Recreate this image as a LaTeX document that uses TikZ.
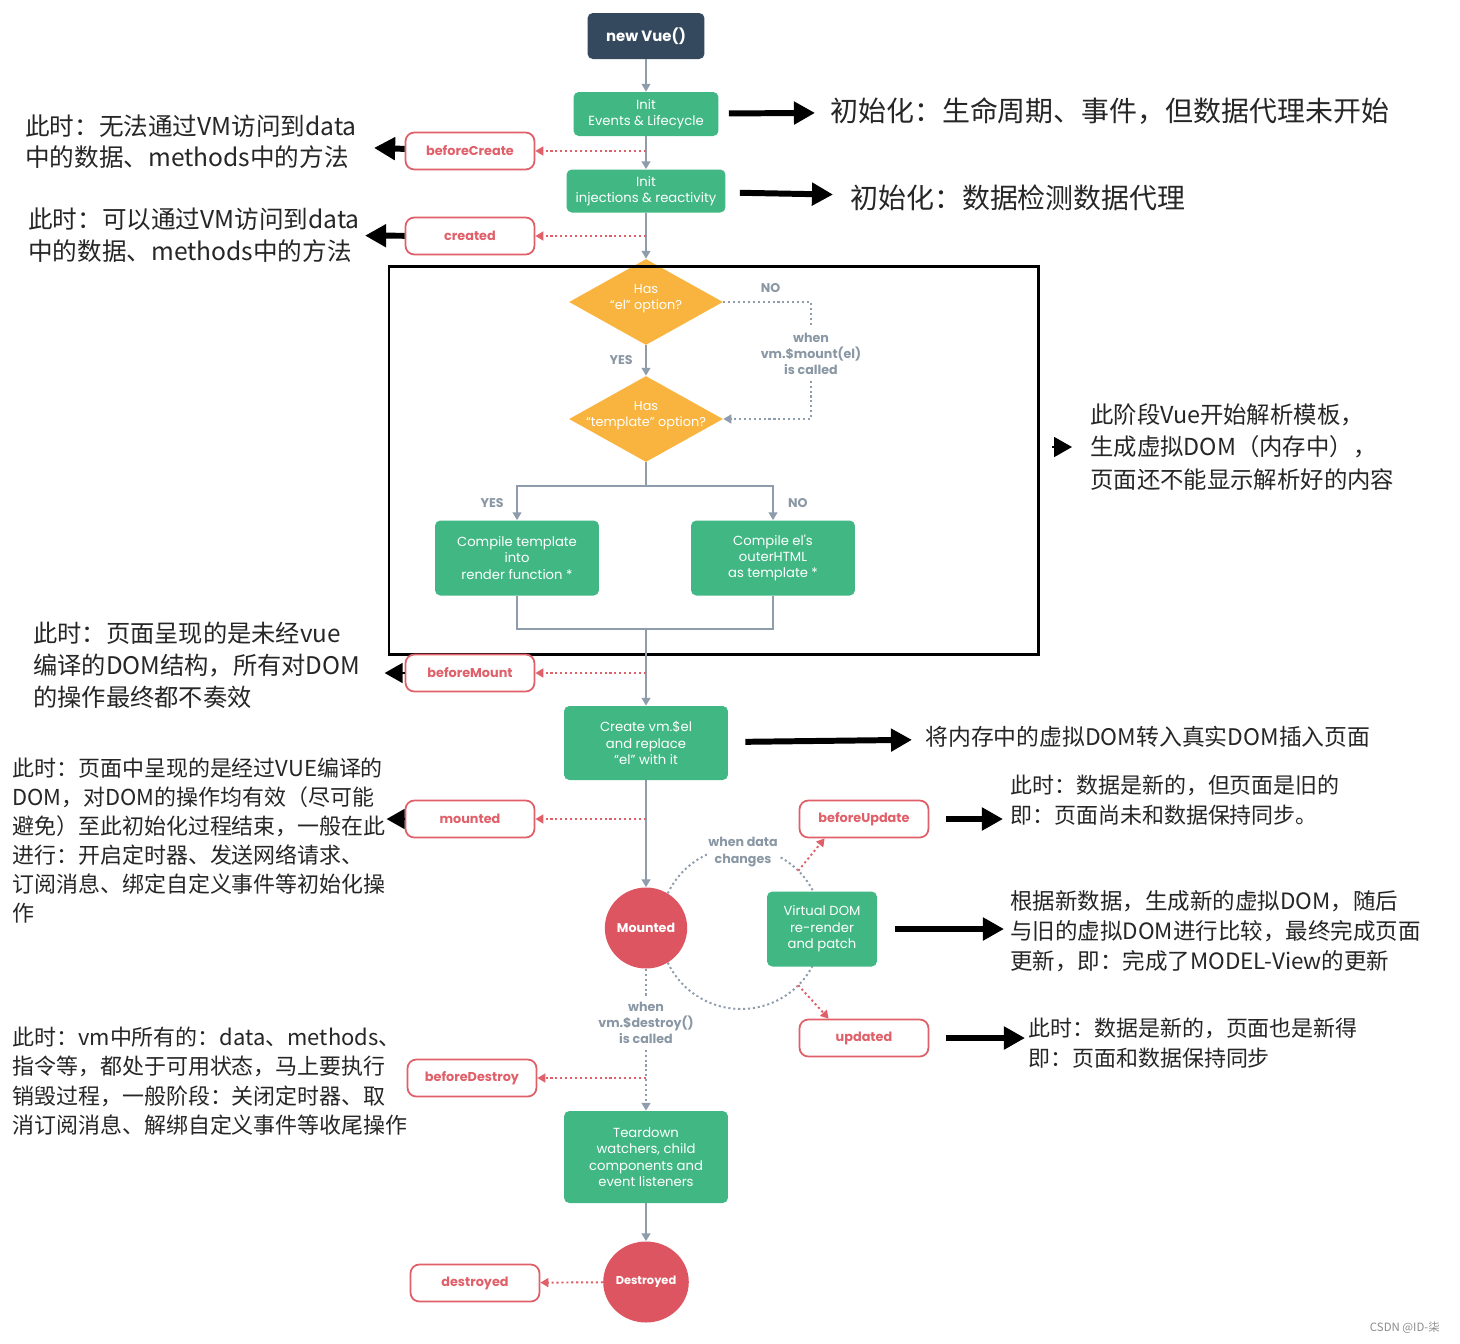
\documentclass[tikz,border=0pt]{standalone}
\usepackage{fontspec}
\setmainfont{Noto Sans CJK SC}
\newfontfamily\vuefont{Poppins}
\usetikzlibrary{arrows.meta, positioning, calc, shapes.geometric}
\definecolor{vuegreen}{HTML}{41B883}
\definecolor{vuedark}{HTML}{35495E}
\definecolor{vuered}{HTML}{E0606A}
\definecolor{vuestage}{HTML}{DD5561}
\definecolor{vueorange}{HTML}{F9B43F}
\definecolor{linegray}{HTML}{8E9CAB}
\definecolor{labelgray}{HTML}{8A97A4}
\tikzset{
  vbox/.style={rectangle, rounded corners=3pt, fill=#1, text=white,
               minimum width=3.28cm, minimum height=1.5cm, align=center,
               inner sep=0pt, font=\vuefont\fontsize{7.5}{9.3}\selectfont},
  vbox/.default=vuegreen,
  hook/.style={rectangle, rounded corners=5pt, draw=vuered, line width=1pt,
               fill=white, text=vuered, minimum width=2.58cm, minimum height=0.74cm,
               font=\vuefont\bfseries\fontsize{7.3}{9}\selectfont},
  decision/.style={diamond, fill=vueorange, minimum width=3.08cm,
                   minimum height=1.72cm, inner sep=0pt},
  dtext/.style={text=white, align=center, font=\vuefont\fontsize{7.3}{9}\selectfont},
  stage/.style={ellipse, fill=vuestage, text=white, minimum width=1.6cm,
                minimum height=1.62cm, inner sep=0pt,
                font=\vuefont\bfseries\fontsize{7.2}{9}\selectfont},
  lbl/.style={text=labelgray, fill=white, align=center, inner sep=1pt,
              font=\vuefont\bfseries\fontsize{7.2}{9.3}\selectfont},
  wire/.style={linegray, line width=1.1pt},
  arr/.style={wire, -{Triangle[length=4.5pt,width=5pt]}},
  dwire/.style={wire, dash pattern=on 1.2pt off 1.6pt},
  darr/.style={dwire, -{Triangle[length=4.5pt,width=5pt]}},
  harr/.style={-{Triangle[length=4.5pt,width=5pt]}, vuered, line width=1.1pt,
               dash pattern=on 1.2pt off 1.6pt},
  bigarr/.style={-{Triangle[length=12pt,width=12.5pt]}, line width=3.4pt, black},
  tiponly/.style={-{Triangle[length=0.36cm,width=0.4cm]}, line width=1pt, black},
  note/.style={anchor=west, align=left, inner sep=0pt, text=black!85},
}

\begin{document}
\begin{tikzpicture}[x=0.02cm, y=-0.02cm]
  \fill[white] (0,0) rectangle (1460,1343);
  \useasboundingbox (0,0) rectangle (1460,1343);

  % update loop behind the nodes
  \coordinate (loop) at (741,928);
  \draw[dwire] (loop) circle[radius=1.62cm];

  % creation
  \node[vbox=vuedark, minimum width=2.34cm, minimum height=0.92cm,
        font=\vuefont\bfseries\fontsize{8.5}{10}\selectfont] (vue) at (646,36) {new Vue()};
  \node[vbox, minimum width=2.9cm, minimum height=0.88cm] (initev) at (646,114)
    {Init\\Events \& Lifecycle};
  \node[vbox, minimum width=3.18cm, minimum height=0.86cm] (initinj) at (646,191)
    {Init\\injections \& reactivity};
  \node[hook] (bcreate) at (470,151) {beforeCreate};
  \node[hook] (created) at (470,236) {created};

  % template compilation
  \node[decision] (hasel) at (646,302) {};
  \node[dtext] at ([yshift=2pt]hasel) {Has\\“el” option?};
  \node[decision] (hastpl) at (646,419) {};
  \node[dtext] at ([yshift=2pt]hastpl) {Has\\“template” option?};
  \node[vbox] (cmptpl) at (517,558) {Compile template\\into\\render function *};
  \node[vbox] (cmpel) at (773,558) {Compile el's\\outerHTML\\as template *};
  \node[lbl, inner sep=3pt] (mountlbl) at (811,354) {when\\vm.\$mount(el)\\is called};
  \draw[line width=1.7pt] (389,266) rectangle (1038,654);

  % mounting
  \node[hook] (bmount) at (470,673) {beforeMount};
  \node[vbox, minimum height=1.48cm] (create) at (646,743)
    {Create vm.\$el\\and replace\\“el” with it};
  \node[hook] (mounted) at (470,819) {mounted};
  \node[stage] (mstage) at (646,928) {Mounted};
  \node[vbox, minimum width=2.2cm] (vdom) at (822,929) {Virtual DOM\\re-render\\and patch};
  \node[hook] (bupdate) at (864,819) {beforeUpdate};
  \node[hook] (updated) at (864,1038) {updated};
  \node[lbl] at (743,852) {when data\\changes};

  % destruction
  \node[lbl, inner sep=3pt] (destroylbl) at (646,1023) {when\\vm.\$destroy()\\is called};
  \node[hook] (bdestroy) at (472,1078) {beforeDestroy};
  \node[vbox, minimum height=1.84cm] (teardown) at (646,1157)
    {Teardown\\watchers, child\\components and\\event listeners};
  \node[stage, font=\vuefont\bfseries\fontsize{6.5}{8}\selectfont] (dstage) at (646,1282) {Destroyed};
  \node[hook] (destroyed) at (475,1283) {destroyed};

  % flow
  \draw[arr] (vue) -- (initev);
  \draw[arr] (initev) -- (initinj);
  \draw[arr] (initinj) -- (hasel);
  \draw[arr] (hasel) -- node[lbl, midway, left=6pt] {YES} (hastpl);
  \draw[dwire] (hasel.east) -| node[lbl, pos=0.27, above=4pt] {NO} (mountlbl.north);
  \draw[darr] (mountlbl.south) |- (hastpl.east);
  \coordinate (split) at (646,486);
  \coordinate (join) at (646,629);
  \draw[wire] (hastpl) -- (split);
  \draw[arr] (split) -| node[lbl, pos=0.75, left=6pt] {YES} (cmptpl);
  \draw[arr] (split) -| node[lbl, pos=0.75, right=7pt] {NO} (cmpel);
  \draw[wire] (cmptpl) |- (join) -| (cmpel);
  \draw[arr] (join) -- (create);
  \draw[arr] (create) -- (mstage);
  \draw[dwire] (mstage) -- (destroylbl);
  \draw[darr] (destroylbl) -- (teardown);
  \draw[arr] (teardown) -- (dstage);

  % hooks
  \draw[harr] (initev |- bcreate) -- (bcreate);
  \draw[harr] (initinj |- created) -- (created);
  \draw[harr] (create |- bmount) -- (bmount);
  \draw[harr] (create |- mounted) -- (mounted);
  \draw[harr] ($(loop)+(45:1.62cm)$) -- ($(bupdate.south west)+(26,0)$);
  \draw[harr] ($(loop)+(-45:1.62cm)$) -- ($(updated.north west)+(30,0)$);
  \draw[harr] (teardown |- bdestroy) -- (bdestroy);
  \draw[harr] (dstage) -- (destroyed);

  % notes
  \node[note, font=\fontsize{15.9}{19}\selectfont] (ninitev) at (830,111)
    {初始化：生命周期、事件，但数据代理未开始};
  \node[note, font=\fontsize{15.9}{19}\selectfont] (ninitinj) at (850,198)
    {初始化：数据检测数据代理};
  \node[note, font=\fontsize{14}{17.6}\selectfont] (nbcreate) at (25,142)
    {此时：无法通过VM访问到data\\中的数据、methods中的方法};
  \node[note, font=\fontsize{14}{18}\selectfont] (ncreated) at (28,235)
    {此时：可以通过VM访问到data\\中的数据、methods中的方法};
  \node[note, font=\fontsize{13.3}{18.4}\selectfont] (nparse) at (1090,447)
    {此阶段Vue开始解析模板，\\生成虚拟DOM（内存中），\\页面还不能显示解析好的内容};
  \node[note, font=\fontsize{13.8}{18.1}\selectfont] (nbmount) at (33,665)
    {此时：页面呈现的是未经vue\\编译的DOM结构，所有对DOM\\的操作最终都不奏效};
  \node[note, font=\fontsize{13}{16}\selectfont] (ncreate) at (925,737)
    {将内存中的虚拟DOM转入真实DOM插入页面};
  \node[note, font=\fontsize{12.5}{16.5}\selectfont] (nmounted) at (12,841)
    {此时：页面中呈现的是经过VUE编译的\\DOM，对DOM的操作均有效（尽可能\\避免）至此初始化过程结束，一般在此\\进行：开启定时器、发送网络请求、\\订阅消息、绑定自定义事件等初始化操\\作};
  \node[note, font=\fontsize{12.5}{17}\selectfont] (nbupdate) at (1010,800)
    {此时：数据是新的，但页面是旧的\\即：页面尚未和数据保持同步。};
  \node[note, font=\fontsize{12.8}{17}\selectfont] (nvdom) at (1010,931)
    {根据新数据，生成新的虚拟DOM，随后\\与旧的虚拟DOM进行比较，最终完成页面\\更新，即：完成了MODEL-View的更新};
  \node[note, font=\fontsize{12.5}{17}\selectfont] (nupdated) at (1028,1043)
    {此时：数据是新的，页面也是新得\\即：页面和数据保持同步};
  \node[note, font=\fontsize{12.5}{16.8}\selectfont] (nbdestroy) at (12,1081)
    {此时：vm中所有的：data、methods、\\指令等，都处于可用状态，马上要执行\\销毁过程，一般阶段：关闭定时器、取\\消订阅消息、解绑自定义事件等收尾操作};
  \node[anchor=east, text=black!45, font=\fontsize{6.5}{8}\selectfont] (mark) at (1446,1328)
    {CSDN @ID-柒};

  % pointers to the notes
  \draw[bigarr, shorten <=0.2cm, shorten >=0.3cm] (initev) -- (ninitev);
  \draw[bigarr, shorten <=0.28cm, shorten >=0.34cm] (initinj) -- (ninitinj);
  \draw[bigarr, shorten >=0.34cm] (bcreate) -- (nbcreate);
  \draw[bigarr, shorten >=0.1cm] (created) -- (ncreated);
  \draw[tiponly] ([xshift=-0.76cm]nparse.west) -- ([xshift=-0.36cm]nparse.west);
  \draw[tiponly] (bmount.west) -- ([xshift=-0.4cm]bmount.west);
  \draw[tiponly] (mounted.west) -- ([xshift=-0.36cm]mounted.west);
  \draw[bigarr, shorten <=0.34cm, shorten >=0.26cm] (create) -- (ncreate);
  \draw[bigarr, shorten <=0.34cm, shorten >=0.14cm] (bupdate.east) -- (bupdate.east -| nbupdate.west);
  \draw[bigarr, shorten <=0.36cm, shorten >=0.12cm] (vdom.east) -- (vdom.east -| nvdom.west);
  \draw[bigarr, shorten <=0.34cm, shorten >=0.06cm] (updated.east) -- (updated.east -| nupdated.west);
\end{tikzpicture}
\end{document}
